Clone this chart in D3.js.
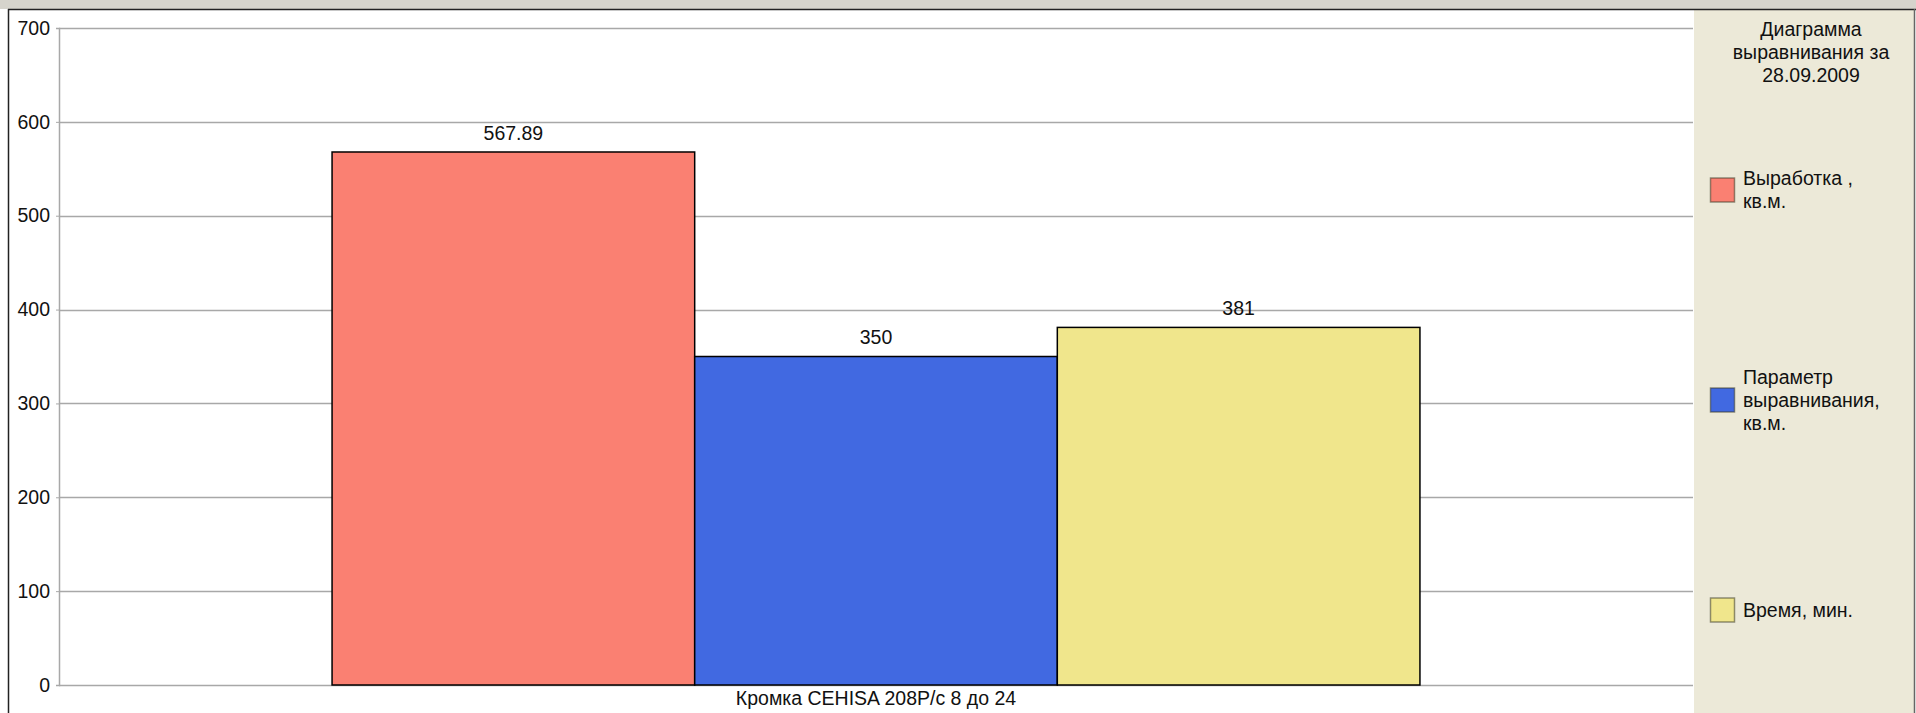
<!DOCTYPE html>
<html>
<head>
<meta charset="utf-8">
<script src="https://cdn.jsdelivr.net/npm/d3@7"></script>
<style>
  body { margin: 0; background: #fff; }
  svg text { font-family: "Liberation Sans", Arial, sans-serif; font-size: 19.5px; fill: #111; }
</style>
</head>
<body>
<div class="chart"></div>
<script>
// chart data
var categories = ["Кромка CEHISA 208Р/с 8 до 24"];
var seriesNames = [["Выработка ,", "кв.м."], ["Параметр", "выравнивания,", "кв.м."], ["Время, мин."]];
var seriesValues = [567.89, 350, 381];
var seriesColors = ["#FA8072", "#4169E1", "#F0E68C"];
var titleLines = ["Диаграмма", "выравнивания за", "28.09.2009"];
var yTicks = [0, 100, 200, 300, 400, 500, 600, 700];

var svgWidth = 1916;
var svgHeight = 713;

var margin = { top: 28, right: 223, bottom: 28, left: 59 };
var width = svgWidth - margin.left - margin.right;
var height = svgHeight - margin.top - margin.bottom;

var svg = d3.select(".chart")
  .append("svg")
  .attr("width", svgWidth)
  .attr("height", svgHeight);

// window frame bits
svg.append("rect")
  .attr("x", 0).attr("y", 0)
  .attr("width", svgWidth).attr("height", 9)
  .attr("fill", "#d6d4cc");

// legend panel
svg.append("rect")
  .attr("x", margin.left + width + 1).attr("y", 10)
  .attr("width", svgWidth - (margin.left + width + 1) - 2).attr("height", svgHeight - 10)
  .attr("fill", "#ECE9D8");

svg.append("line")
  .attr("x1", 8).attr("x2", svgWidth).attr("y1", 9.5).attr("y2", 9.5)
  .attr("stroke", "#222").attr("stroke-width", 1.5);
svg.append("line")
  .attr("x1", 8.5).attr("x2", 8.5).attr("y1", 9).attr("y2", svgHeight)
  .attr("stroke", "#222").attr("stroke-width", 1.5);
svg.append("line")
  .attr("x1", 1914.5).attr("x2", 1914.5).attr("y1", 9).attr("y2", svgHeight)
  .attr("stroke", "#666").attr("stroke-width", 1.5);

var chartGroup = svg.append("g")
  .attr("transform", `translate(${margin.left}, ${margin.top})`);

// scales
var yLinearScale = d3.scaleLinear()
  .domain([0, 700])
  .range([height, 0]);

var x0 = d3.scaleBand()
  .domain(categories)
  .range([0, width])
  .paddingOuter(0.251)
  .paddingInner(0);

var x1 = d3.scaleBand()
  .domain(d3.range(seriesValues.length))
  .range([0, x0.bandwidth()])
  .padding(0);

// gridlines
chartGroup.selectAll(".grid")
  .data(yTicks)
  .enter()
  .append("line")
  .attr("x1", 0)
  .attr("x2", width)
  .attr("y1", d => Math.round(yLinearScale(d)) + 0.5)
  .attr("y2", d => Math.round(yLinearScale(d)) + 0.5)
  .attr("stroke", "#a8a8a8")
  .attr("stroke-width", 1.5);

// y axis
var leftAxis = d3.axisLeft(yLinearScale)
  .tickValues(yTicks)
  .tickSize(3)
  .tickPadding(6)
  .tickFormat(d3.format("d"));

var yAxis = chartGroup.append("g").call(leftAxis);
yAxis.select(".domain").attr("stroke", "#a8a8a8").attr("stroke-width", 1.5);
yAxis.selectAll(".tick line").attr("stroke", "#a8a8a8");
yAxis.selectAll(".tick text")
  .style("font-size", "19.5px")
  .attr("fill", "#111");

// bars
var catGroup = chartGroup.selectAll(".cat")
  .data(categories)
  .enter()
  .append("g")
  .attr("transform", d => `translate(${x0(d)}, 0)`);

catGroup.selectAll("rect")
  .data(seriesValues)
  .enter()
  .append("rect")
  .attr("x", (d, i) => x1(i))
  .attr("y", d => yLinearScale(d))
  .attr("width", x1.bandwidth())
  .attr("height", d => height - yLinearScale(d))
  .attr("fill", (d, i) => seriesColors[i])
  .attr("stroke", "#000")
  .attr("stroke-width", 1.5);

// value labels
catGroup.selectAll(".val")
  .data(seriesValues)
  .enter()
  .append("text")
  .attr("x", (d, i) => x1(i) + x1.bandwidth() / 2)
  .attr("y", d => yLinearScale(d) - 19)
  .attr("dy", "0.35em")
  .attr("text-anchor", "middle")
  .text(d => d);

// category label
chartGroup.selectAll(".catlabel")
  .data(categories)
  .enter()
  .append("text")
  .attr("x", d => x0(d) + x0.bandwidth() / 2)
  .attr("y", height + 13)
  .attr("dy", "0.35em")
  .attr("text-anchor", "middle")
  .text(d => d);

// legend
var legendX = margin.left + width + 1;
var legendCenter = legendX + 117;

svg.selectAll(".title")
  .data(titleLines)
  .enter()
  .append("text")
  .attr("x", legendCenter)
  .attr("y", (d, i) => 29 + i * 23)
  .attr("dy", "0.35em")
  .attr("text-anchor", "middle")
  .text(d => d);

var legendItems = svg.selectAll(".legend")
  .data(seriesNames)
  .enter()
  .append("g")
  .attr("transform", (d, i) => `translate(${legendX + 16}, ${190 + i * 210})`);

legendItems.append("rect")
  .attr("x", 0.5)
  .attr("y", -12)
  .attr("width", 24)
  .attr("height", 24)
  .attr("fill", (d, i) => seriesColors[i])
  .attr("stroke", "rgba(60,60,40,0.55)")
  .attr("stroke-width", 1.5);

legendItems.each(function(lines) {
  d3.select(this).selectAll("text")
    .data(lines)
    .enter()
    .append("text")
    .attr("x", 33)
    .attr("y", (d, i) => (i - (lines.length - 1) / 2) * 23)
    .attr("dy", "0.35em")
    .text(d => d);
});
</script>
</body>
</html>
